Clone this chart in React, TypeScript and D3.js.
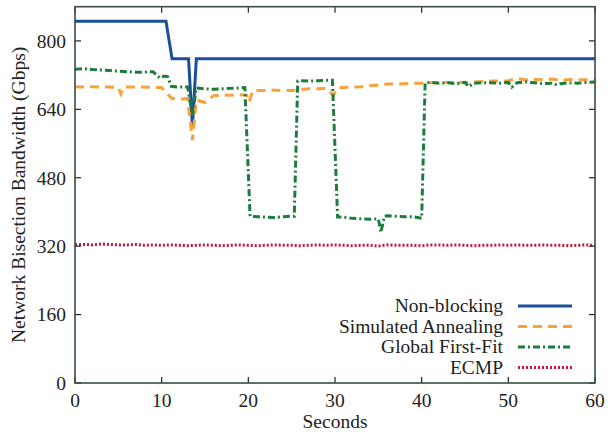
import React from 'react';
import * as d3 from 'd3';

// Non-blocking
const nbSeconds = [0, 10.5, 11.2, 13.1, 13.55, 14, 60];
const nbValues = [846, 846, 758, 758, 600, 758, 758];

// Simulated Annealing
const saSeconds = [0, 1, 2, 3, 4, 5, 5.3, 5.6, 6, 7, 8, 9, 10, 10.5, 11.2, 12, 13, 13.55, 14, 15, 16, 17, 18, 19, 19.8, 20.1, 20.5, 21, 22, 23, 24, 25, 26, 27, 28, 29, 29.8, 30.3, 31, 32, 33, 34, 35, 36, 37, 38, 39, 40, 41, 42, 43, 44, 45, 46, 47, 48, 49, 50, 51, 52, 53, 54, 55, 56, 57, 58, 59, 60];
const saValues = [693, 692, 693, 692, 692, 691, 676, 692, 692, 692, 692, 691, 691, 679, 665, 664, 665, 568, 662, 656, 672, 674, 673, 674, 673, 657, 684, 684, 684, 685, 684, 684, 686, 688, 688, 689, 673, 690, 691, 692, 693, 695, 697, 699, 699, 700, 701, 701, 702, 702, 703, 703, 703, 704, 705, 706, 706, 707, 712, 709, 710, 709, 711, 708, 710, 709, 709, 709];

// Global First-Fit
const gffSeconds = [0, 1, 2, 3, 4, 5, 6, 7, 8, 9, 9.8, 10.3, 10.7, 11.1, 12, 13, 13.55, 14, 15, 16, 17, 18, 19, 19.6, 20.2, 21, 22, 23, 24, 25, 25.3, 25.7, 26, 27, 28, 29, 29.7, 30.3, 31, 32, 33, 34, 35, 35.3, 35.7, 36, 37, 38, 39, 40, 40.4, 41, 42, 43, 44, 45, 45.4, 46, 47, 48, 49, 50, 50.4, 51, 52, 53, 54, 55, 55.6, 56, 57, 58, 59, 60];
const gffValues = [734, 735, 733, 732, 731, 729, 728, 727, 727, 728, 713, 718, 716, 694, 692, 692, 625, 690, 688, 687, 688, 689, 690, 691, 390, 389, 388, 387, 389, 390, 390, 706, 707, 706, 707, 708, 708, 388, 388, 385, 384, 383, 384, 352, 390, 391, 390, 389, 389, 385, 702, 703, 701, 702, 700, 703, 693, 701, 702, 702, 701, 703, 692, 702, 704, 702, 700, 701, 697, 700, 702, 701, 703, 704];

// ECMP (one sample per second)
const ecmpValues = [324, 324, 323, 325, 324, 323, 323, 324, 322, 323, 322, 323, 322, 321, 322, 323, 322, 321, 322, 323, 322, 321, 322, 323, 322, 322, 321, 322, 323, 322, 323, 322, 321, 322, 322, 320, 323, 322, 322, 322, 321, 323, 323, 322, 323, 322, 321, 322, 322, 323, 322, 323, 322, 322, 323, 322, 322, 321, 322, 323, 322];
const ecmpSeconds = ecmpValues.map((_, i) => i);

const xTicks = [0, 10, 20, 30, 40, 50, 60];
const yTicks = [0, 160, 320, 480, 640, 800];

const legendNames = ['Non-blocking', 'Simulated Annealing', 'Global First-Fit', 'ECMP'];

const font = '"Liberation Serif", "Times New Roman", serif';
const frameColor = '#35503f';

const series = [
  { name: legendNames[0], xs: nbSeconds, ys: nbValues, color: '#1c4f98', dash: 'none', width: 3 },
  { name: legendNames[1], xs: saSeconds, ys: saValues, color: '#f7a23c', dash: '9,6', width: 3 },
  { name: legendNames[2], xs: gffSeconds, ys: gffValues, color: '#1b7d3c', dash: '7,3,2,3', width: 3 },
  { name: legendNames[3], xs: ecmpSeconds, ys: ecmpValues, color: '#c8143a', dash: '2,2', width: 3 },
];

const App = () => {
  const left = 75, right = 595, top = 6.7, bottom = 383;

  const x = d3.scaleLinear().domain([0, 60]).range([left, right]);
  const y = d3.scaleLinear().domain([0, 880]).range([bottom, top]);

  const line = d3.line<[number, number]>()
    .x(d => x(d[0]))
    .y(d => y(d[1]));

  const tickLen = 6;

  return (
    <svg width={610} height={432} style={{ position: 'absolute', left: 0, top: 0, background: '#fff' }}
      fontFamily={font}>
      {/* data lines */}
      {series.map(s => (
        <path key={s.name}
          d={line(s.xs.map((t, i) => [t, s.ys[i]] as [number, number])) || ''}
          fill="none" stroke={s.color} strokeWidth={s.width}
          strokeDasharray={s.dash} strokeLinejoin="miter" />
      ))}

      {/* ticks */}
      {xTicks.map(t => (
        <g key={'xt' + t}>
          <line x1={x(t)} x2={x(t)} y1={bottom} y2={bottom - tickLen} stroke="#222" strokeWidth={1.2} />
          <line x1={x(t)} x2={x(t)} y1={top} y2={top + tickLen} stroke="#222" strokeWidth={1.2} />
          <text x={x(t)} y={407} textAnchor="middle" fontSize={19.5} fill="#222">{t}</text>
        </g>
      ))}
      {yTicks.map(t => (
        <g key={'yt' + t}>
          <line x1={left} x2={left + tickLen} y1={y(t)} y2={y(t)} stroke="#222" strokeWidth={1.2} />
          <line x1={right} x2={right - tickLen} y1={y(t)} y2={y(t)} stroke="#222" strokeWidth={1.2} />
          <text x={66} y={y(t)} dy="0.35em" textAnchor="end" fontSize={19.5} fill="#222">{t}</text>
        </g>
      ))}

      {/* frame */}
      <rect x={left} y={top} width={right - left} height={bottom - top}
        fill="none" stroke={frameColor} strokeWidth={1.6} />

      {/* axis titles */}
      <text x={(left + right) / 2} y={428} textAnchor="middle" fontSize={19.5} fill="#222">Seconds</text>
      <text transform={`translate(25, ${(top + bottom) / 2}) rotate(-90)`} textAnchor="middle"
        fontSize={19.5} fill="#222">Network Bisection Bandwidth (Gbps)</text>

      {/* legend */}
      {series.map((s, i) => {
        const ly = 306 + i * 20.5;
        return (
          <g key={'lg' + s.name}>
            <text x={503} y={ly} dy="0.33em" textAnchor="end" fontSize={19.5} fill="#222">{s.name}</text>
            <line x1={518} x2={572} y1={ly} y2={ly} stroke={s.color} strokeWidth={s.width}
              strokeDasharray={s.dash} />
          </g>
        );
      })}
    </svg>
  );
};

export default App;
